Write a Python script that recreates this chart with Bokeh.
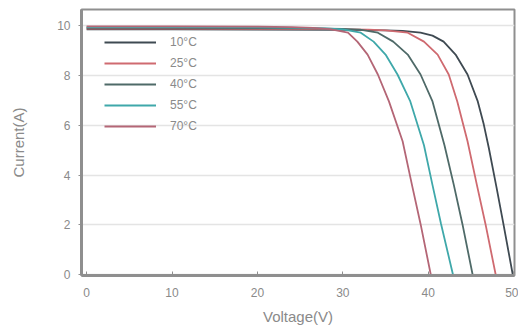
from bokeh.plotting import figure
from bokeh.models import Range1d, Legend, LegendItem, FixedTicker
from bokeh.embed import file_html
from bokeh.resources import INLINE

labels = ["10°C", "25°C", "40°C", "55°C", "70°C"]
colors = ["#3f4a52", "#cf6a70", "#4f6a68", "#3fa8aa", "#b46676"]

v10 = [0, 10, 20, 30, 35, 37, 39.1, 40.5, 41.8, 43.2, 44.6, 45.8, 46.5, 47.1, 48.0, 48.8, 49.9]
i10 = [9.85, 9.85, 9.84, 9.83, 9.81, 9.79, 9.72, 9.6, 9.36, 8.84, 8.04, 6.96, 6.04, 5.08, 3.5, 2.04, 0]

v25 = [0, 10, 20, 28, 33, 35, 37.6, 39.5, 41.1, 42.4, 43.4, 44.6, 45.7, 46.7, 47.9]
i25 = [9.88, 9.88, 9.87, 9.86, 9.84, 9.81, 9.72, 9.36, 8.84, 8.04, 6.96, 5.36, 3.6, 2.04, 0]

v40 = [0, 10, 20, 26, 30, 32, 34.1, 35.9, 37.6, 39.1, 40.5, 41.9, 43.0, 44.0, 45.2]
i40 = [9.91, 9.91, 9.9, 9.89, 9.87, 9.84, 9.72, 9.36, 8.84, 8.04, 6.96, 5.2, 3.6, 2.04, 0]

v55 = [0, 10, 20, 25, 28, 30, 32.1, 33.6, 35.0, 36.4, 37.9, 39.5, 40.5, 41.5, 42.9]
i55 = [9.94, 9.94, 9.93, 9.91, 9.89, 9.85, 9.72, 9.36, 8.84, 8.04, 6.96, 5.2, 3.6, 2.04, 0]

v70 = [0, 10, 20, 24, 26.5, 28.5, 30.6, 31.7, 32.9, 34.1, 35.4, 37.0, 38.1, 39.1, 40.3]
i70 = [9.97, 9.97, 9.96, 9.94, 9.91, 9.86, 9.72, 9.36, 8.84, 8.04, 6.96, 5.36, 3.6, 2.04, 0]

x_ticks = [0, 10, 20, 30, 40, 50]
y_ticks = [0, 2, 4, 6, 8, 10]

series = [(v10, i10), (v25, i25), (v40, i40), (v55, i55), (v70, i70)]

p = figure(width=518, height=330, output_backend="svg", toolbar_location=None,
           x_range=Range1d(-0.6, 50.1), y_range=Range1d(-0.03, 10.65),
           min_border_left=81, min_border_right=4, min_border_top=9, min_border_bottom=55)

items = []
for (vv, ii), lab, col in zip(series, labels, colors):
    r = p.line(vv, ii, line_color=col, line_width=1.8)
    items.append(LegendItem(label=lab, renderers=[r]))

font = "Liberation Sans"
txt = "#8a8a8a"

p.xaxis.ticker = FixedTicker(ticks=x_ticks)
p.yaxis.ticker = FixedTicker(ticks=y_ticks)
p.xaxis.axis_label = "Voltage(V)"
p.yaxis.axis_label = "Current(A)"
for ax in (p.xaxis[0], p.yaxis[0]):
    ax.axis_line_color = "#8f8f8f"
    ax.axis_line_width = 3
    ax.major_tick_line_color = "#8f8f8f"
    ax.minor_tick_line_color = None
    ax.major_label_text_font = font
    ax.major_label_text_font_size = "12px"
    ax.major_label_text_color = txt
    ax.axis_label_text_font = font
    ax.axis_label_text_font_size = "15px"
    ax.axis_label_text_color = txt
    ax.axis_label_text_font_style = "normal"
p.xaxis.major_tick_in = 4
p.xaxis.major_tick_out = 0
p.yaxis.major_tick_in = 0
p.yaxis.major_tick_out = 3
p.xaxis.major_label_standoff = 12
p.xaxis.axis_label_standoff = 8
p.yaxis.major_label_standoff = 8
p.yaxis.axis_label_standoff = 27

p.xgrid.grid_line_color = None
p.ygrid.grid_line_color = "#e4e4e4"
p.ygrid.grid_line_width = 1.5

p.outline_line_color = "#8f8f8f"
p.outline_line_width = 2

legend = Legend(items=items, location="top_left", margin=23, padding=0, spacing=1,
                glyph_width=52, glyph_height=20, label_height=20, label_standoff=14,
                label_text_font=font, label_text_font_size="12px", label_text_color=txt,
                border_line_color=None, background_fill_alpha=0)
p.add_layout(legend)

open("out.html", "w").write(file_html(p, INLINE))
